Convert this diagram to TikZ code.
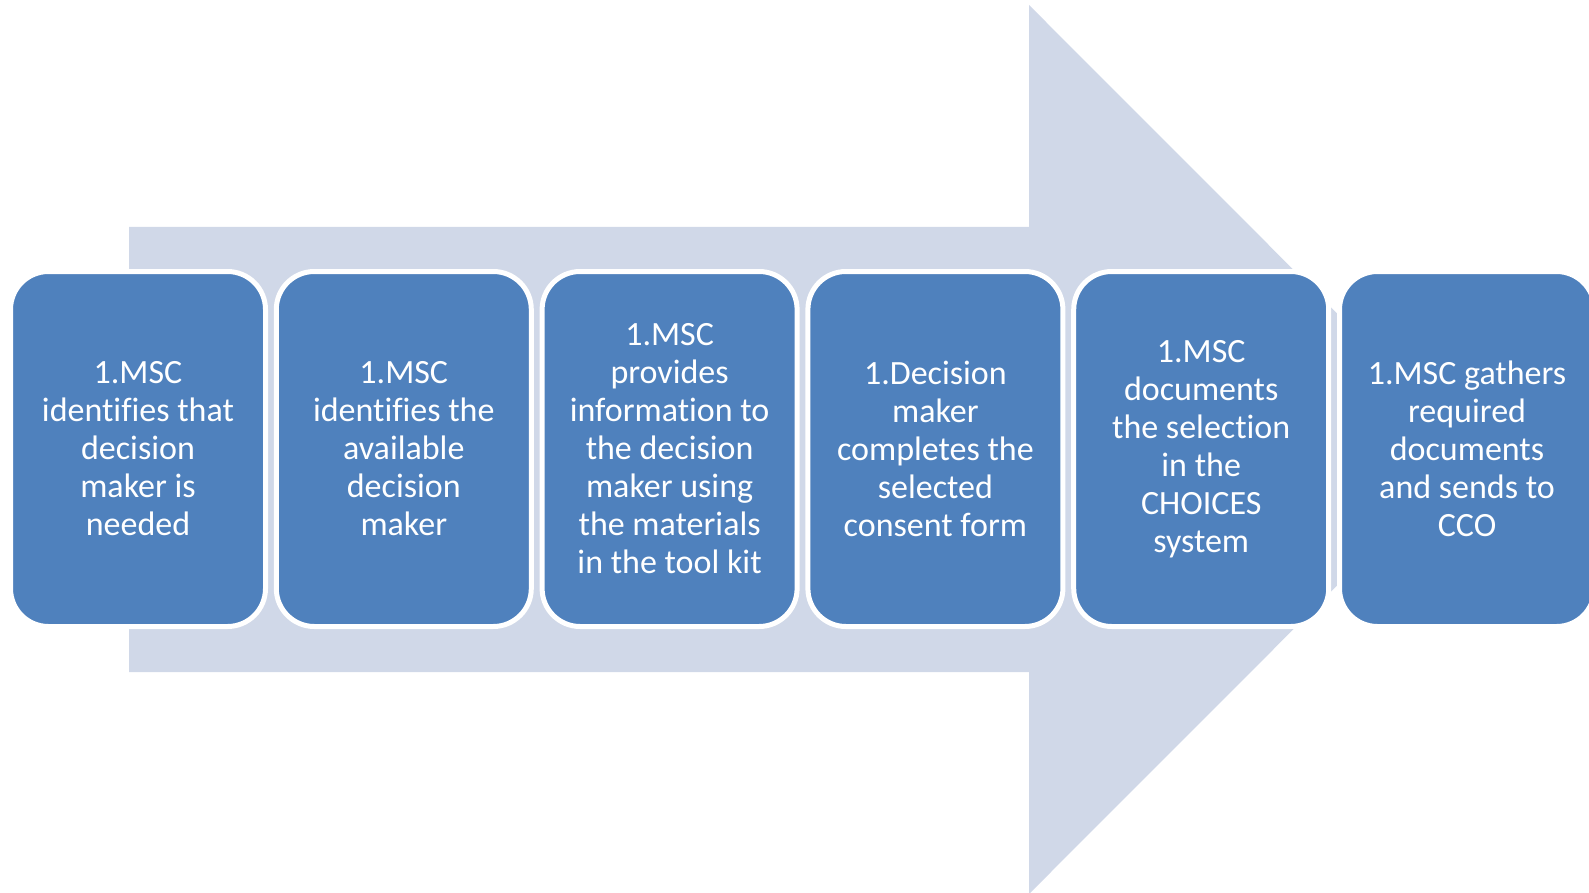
\documentclass[tikz,border=0pt]{standalone}
\usepackage{fontspec}
\setmainfont[Ligatures=NoCommon]{Carlito}
\definecolor{boxblue}{HTML}{4F81BD}
\definecolor{arrowgray}{HTML}{D0D8E8}
\tikzset{
  stepbox/.style={draw=white, line width=5pt, fill=boxblue, rounded corners=38pt,
    minimum width=255pt, minimum height=355pt, text=white, align=center,
    font=\fontsize{34}{38}\selectfont, inner sep=0pt},
  bigarrow/.style={fill=arrowgray, draw=none}
}
\begin{document}
\begin{tikzpicture}[x=1pt,y=-1pt]
\useasboundingbox (0,0) rectangle (1589,893);
\clip (0,0) rectangle (1589,893);
\coordinate (bodyTL) at (129,227);
\coordinate (headT) at (1029,5);
\coordinate (tip) at (1473,449.5);
\coordinate (headB) at (1029,894);
\coordinate (bodyBL) at (129,672);
\fill[bigarrow] (bodyTL) -- (1029,227) -- (headT) -- (tip) -- (headB) -- (1029,672) -- (bodyBL) -- cycle;
\node[stepbox] (s1) at (138,449) {1.MSC\\identifies that\\decision\\maker is\\needed};
\node[stepbox] (s2) at (403.8,449) {1.MSC\\identifies the\\available\\decision\\maker};
\node[stepbox] (s3) at (669.6,449) {1.MSC\\provides\\information to\\the decision\\maker using\\the materials\\in the tool kit};
\node[stepbox] (s4) at (935.4,449) {1.Decision\\maker\\completes the\\selected\\consent form};
\node[stepbox] (s5) at (1201.2,449) {\raisebox{-2pt}{\parbox{250pt}{\centering 1.MSC\\documents\\the selection\\in the\\CHOICES\\system}}};
\node[stepbox] (s6) at (1467,449) {1.MSC gathers\\required\\documents\\and sends to\\CCO};
\end{tikzpicture}
\end{document}
